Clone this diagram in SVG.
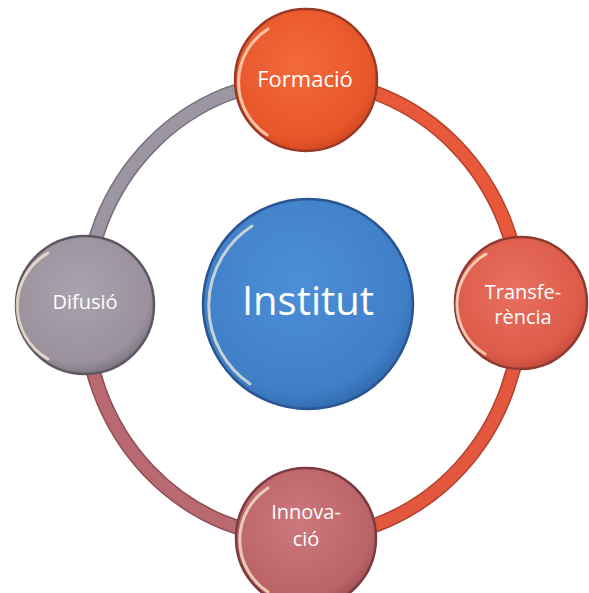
<svg xmlns="http://www.w3.org/2000/svg" width="589" height="593" viewBox="0 0 589 593">
<defs>
<radialGradient id="gOrange" cx="0.45" cy="0.4" r="0.65"><stop offset="0" stop-color="#f26a3c"/><stop offset="0.8" stop-color="#e8552a"/><stop offset="1" stop-color="#c94420"/></radialGradient>
<radialGradient id="gRed" cx="0.45" cy="0.4" r="0.65"><stop offset="0" stop-color="#e97060"/><stop offset="0.8" stop-color="#dc5a48"/><stop offset="1" stop-color="#b8463a"/></radialGradient>
<radialGradient id="gRose" cx="0.45" cy="0.4" r="0.65"><stop offset="0" stop-color="#cc787c"/><stop offset="0.8" stop-color="#bb6468"/><stop offset="1" stop-color="#97494e"/></radialGradient>
<radialGradient id="gGray" cx="0.45" cy="0.4" r="0.65"><stop offset="0" stop-color="#aaa2ac"/><stop offset="0.8" stop-color="#9a919c"/><stop offset="1" stop-color="#6f6874"/></radialGradient>
<radialGradient id="gBlue" cx="0.45" cy="0.4" r="0.65"><stop offset="0" stop-color="#4d8fd6"/><stop offset="0.8" stop-color="#3f7fc8"/><stop offset="1" stop-color="#2c62a3"/></radialGradient>
</defs>
<style>
.edge{stroke-width:15;fill:none}
.arc{stroke-width:12;fill:none}
.out{stroke-width:2.5}
.hl{fill:none;stroke:#fff3d8;stroke-width:3;opacity:0.7;stroke-linecap:round}
.lbl{font-family:"Open Sans","DejaVu Sans",sans-serif;fill:#ffffff;text-anchor:middle}
</style>
<rect width="589" height="593" fill="#ffffff"/>
<g id="connectors">
<path class="edge" stroke="#b5432b" d="M305 80 A218 229 0 0 1 521 303"/>
<path class="edge" stroke="#b0432f" d="M521 303 A218 229 0 0 1 306 538"/>
<path class="edge" stroke="#8e4e54" d="M306 538 A218 229 0 0 1 85 305"/>
<path class="edge" stroke="#77717d" d="M85 305 A218 229 0 0 1 305 80"/>
<path class="arc" stroke="#e8583a" d="M305 80 A218 229 0 0 1 521 303"/>
<path class="arc" stroke="#e2573e" d="M521 303 A218 229 0 0 1 306 538"/>
<path class="arc" stroke="#b86a70" d="M306 538 A218 229 0 0 1 85 305"/>
<path class="arc" stroke="#9c96a2" d="M85 305 A218 229 0 0 1 305 80"/>
</g>
<g id="formacio">
<circle cx="306" cy="80" r="71" fill="url(#gOrange)" stroke="#9a3a24" class="out"/>
<path class="hl" d="M267 135 A63 63 0 0 1 268 29"/>
<text class="lbl" x="305" y="87" font-size="22">Formació</text>
</g>
<g id="transferencia">
<circle cx="521" cy="303" r="66" fill="url(#gRed)" stroke="#8e3a32" class="out"/>
<path class="hl" d="M485 354 A58 58 0 0 1 486 254"/>
<text class="lbl" x="523" y="299" font-size="20">Transfe-</text>
<text class="lbl" x="523" y="324" font-size="20">rència</text>
</g>
<g id="innovacio">
<circle cx="306" cy="538" r="70" fill="url(#gRose)" stroke="#7a3c40" class="out"/>
<path class="hl" d="M268 592 A62 62 0 0 1 268 488"/>
<text class="lbl" x="306" y="519" font-size="20">Innova-</text>
<text class="lbl" x="306" y="546" font-size="20">ció</text>
</g>
<g id="difusio">
<circle cx="85" cy="305" r="69" fill="url(#gGray)" stroke="#5e5862" class="out"/>
<path class="hl" d="M48 359 A61 61 0 0 1 48 253"/>
<text class="lbl" x="85" y="309" font-size="20">Difusió</text>
</g>
<g id="institut">
<circle cx="308" cy="304" r="105" fill="url(#gBlue)" stroke="#2a5590" class="out"/>
<path class="hl" d="M250 384 A95 95 0 0 1 252 226" stroke="#dfefff"/>
<text class="lbl" x="308" y="315" font-size="40">Institut</text>
</g>
</svg>
